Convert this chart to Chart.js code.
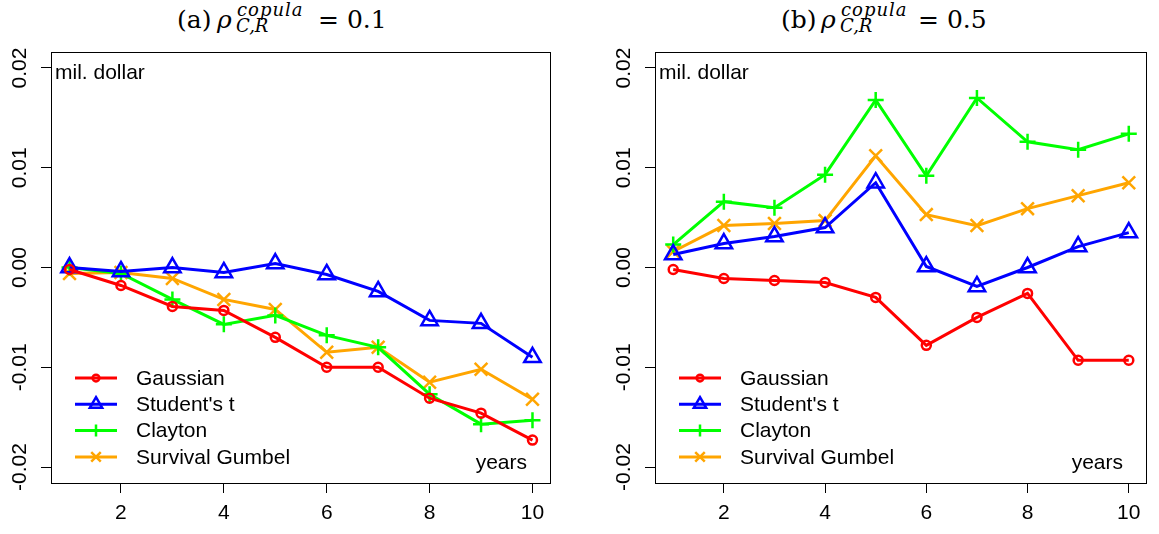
<!DOCTYPE html>
<html>
<head>
<meta charset="utf-8">
<script src="https://cdn.jsdelivr.net/npm/chart.js@4"></script>
<style>
  body { margin: 0; background: #fff; width: 1159px; height: 534px; overflow: hidden; position: relative; }
  canvas { position: absolute; top: 0; }
  .t { position: absolute; font-family: 'DejaVu Serif', serif; white-space: nowrap; color: #000; }
  .big { font-size: 25px; line-height: 25px; top: 7px; }
  .small { font-size: 18px; line-height: 18px; font-style: italic; letter-spacing: 1px; }
</style>
</head>
<body>
<span class="t big" style="left:177px">(a)</span>
<span class="t big" style="left:217px; font-style:italic">ρ</span>
<span class="t small" style="left:237px; top:1px">copula</span>
<span class="t small" style="left:236px; top:17px; letter-spacing:0">C,R</span>
<span class="t big" style="left:318px">= 0.1</span>

<span class="t big" style="left:781px">(b)</span>
<span class="t big" style="left:821px; font-style:italic">ρ</span>
<span class="t small" style="left:841px; top:1px">copula</span>
<span class="t small" style="left:840px; top:17px; letter-spacing:0">C,R</span>
<span class="t big" style="left:918px">= 0.5</span>

<canvas id="panelA" width="575" height="534" style="left:0"></canvas>
<canvas id="panelB" width="555" height="534" style="left:604px"></canvas>
<script>
var years = [1, 2, 3, 4, 5, 6, 7, 8, 9, 10];
var seriesNames = ['Gaussian', "Student's t", 'Clayton', 'Survival Gumbel'];
var xTicks = [2, 4, 6, 8, 10];
var yTicks = [-0.02, -0.01, 0.00, 0.01, 0.02];

// (a) rho = 0.1
var gaussA   = [-0.0002, -0.0018, -0.0039, -0.0043, -0.0070, -0.0100, -0.0100, -0.0131, -0.0146, -0.0173];
var studentA = [0.0000, -0.0004, 0.0000, -0.0005, 0.0004, -0.0007, -0.0024, -0.0053, -0.0056, -0.0090];
var claytonA = [0.0000, -0.0006, -0.0032, -0.0057, -0.0048, -0.0068, -0.0080, -0.0127, -0.0157, -0.0153];
var gumbelA  = [-0.0006, -0.0005, -0.0011, -0.0032, -0.0042, -0.0085, -0.0080, -0.0115, -0.0102, -0.0132];

// (b) rho = 0.5
var gaussB   = [-0.0002, -0.0011, -0.0013, -0.0015, -0.0030, -0.0078, -0.0050, -0.0026, -0.0093, -0.0093];
var studentB = [0.0013, 0.0024, 0.0031, 0.0040, 0.0085, 0.0001, -0.0019, 0.0000, 0.0021, 0.0035];
var claytonB = [0.0023, 0.0066, 0.0060, 0.0093, 0.0168, 0.0092, 0.0170, 0.0126, 0.0118, 0.0134];
var gumbelB  = [0.0016, 0.0042, 0.0044, 0.0047, 0.0112, 0.0053, 0.0042, 0.0059, 0.0072, 0.0085];

var styles = [
    { color: '#FF0000', pointStyle: 'circle', radius: 4.5 },
    { color: '#0000FF', pointStyle: 'triangle', radius: 9.5 },
    { color: '#00FF00', pointStyle: 'cross', radius: 8 },
    { color: '#FFA500', pointStyle: 'crossRot', radius: 9 }
];

Chart.defaults.font.family = "'Liberation Sans', Arial, sans-serif";
Chart.defaults.font.size = 21;
Chart.defaults.color = '#000';

var decor = {
    id: 'decor',
    afterDraw: function(chart) {
        var ctx = chart.ctx, a = chart.chartArea;
        ctx.save();
        // box round the plot
        ctx.strokeStyle = '#000';
        ctx.lineWidth = 1;
        ctx.strokeRect(Math.round(a.left) + 0.5, Math.round(a.top) + 0.5, Math.round(a.width) - 1, Math.round(a.height));
        ctx.fillStyle = '#000';
        ctx.font = "21px 'Liberation Sans', Arial, sans-serif";
        ctx.textBaseline = 'middle';
        ctx.textAlign = 'left';
        ctx.fillText('mil. dollar', a.left + 4, a.top + 21);
        ctx.textAlign = 'right';
        ctx.fillText('years', a.right - 24, a.bottom - 20);
        // legend
        chart.data.datasets.forEach(function(ds, i) {
            var y = a.bottom - 105 + i * 26.3;
            var x0 = a.left + 24, x1 = a.left + 66;
            ctx.strokeStyle = ds.borderColor;
            ctx.lineWidth = 3;
            ctx.beginPath();
            ctx.moveTo(x0, y);
            ctx.lineTo(x1, y);
            ctx.stroke();
            ctx.fillStyle = 'rgba(0,0,0,0)';
            ctx.lineWidth = ds.pointBorderWidth;
            Chart.helpers.drawPoint(ctx, { pointStyle: ds.pointStyle, radius: ds.pointRadius * 0.75, rotation: 0, borderWidth: ds.pointBorderWidth }, (x0 + x1) / 2, y);
            ctx.fillStyle = '#000';
            ctx.textAlign = 'left';
            ctx.fillText(ds.label, a.left + 85, y + 1);
        });
        ctx.restore();
    }
};

function makePanel(id, series, padRight) {
    var datasets = series.map(function(vals, i) {
        var s = styles[i];
        return {
            label: seriesNames[i],
            data: vals.map(function(v, k) { return { x: years[k], y: v }; }),
            borderColor: s.color,
            backgroundColor: s.color,
            borderWidth: 3,
            pointStyle: s.pointStyle,
            pointRadius: s.radius,
            pointBorderWidth: 2.5,
            pointBorderColor: s.color,
            pointBackgroundColor: 'rgba(0,0,0,0)',
            tension: 0,
            clip: false
        };
    });
    return new Chart(document.getElementById(id), {
        type: 'line',
        data: { datasets: datasets },
        options: {
            responsive: false,
            animation: false,
            layout: { padding: { top: 52, right: padRight, left: 0, bottom: 0 } },
            plugins: { legend: { display: false }, tooltip: { enabled: false } },
            scales: {
                x: {
                    type: 'linear',
                    min: 0.64,
                    max: 10.36,
                    afterBuildTicks: function(s) { s.ticks = xTicks.map(function(v) { return { value: v }; }); },
                    afterFit: function(s) { s.height = 51; },
                    ticks: { padding: 8, autoSkip: false, maxRotation: 0, callback: function(v) { return String(v); } },
                    grid: { drawOnChartArea: false, tickLength: 10, color: '#000', tickWidth: 1 },
                    border: { display: false }
                },
                y: {
                    min: -0.0216,
                    max: 0.0216,
                    afterBuildTicks: function(s) { s.ticks = yTicks.map(function(v) { return { value: v }; }); },
                    afterFit: function(s) { s.width = 51; },
                    ticks: {
                        padding: -3, autoSkip: false, minRotation: 90, maxRotation: 90, crossAlign: 'center',
                        callback: function(v) { return v.toFixed(2); }
                    },
                    grid: { drawOnChartArea: false, tickLength: 10, color: '#000', tickWidth: 1 },
                    border: { display: false }
                }
            }
        },
        plugins: [decor]
    });
}

makePanel('panelA', [gaussA, studentA, claytonA, gumbelA], 24);
makePanel('panelB', [gaussB, studentB, claytonB, gumbelB], 6);
</script>
</body>
</html>
